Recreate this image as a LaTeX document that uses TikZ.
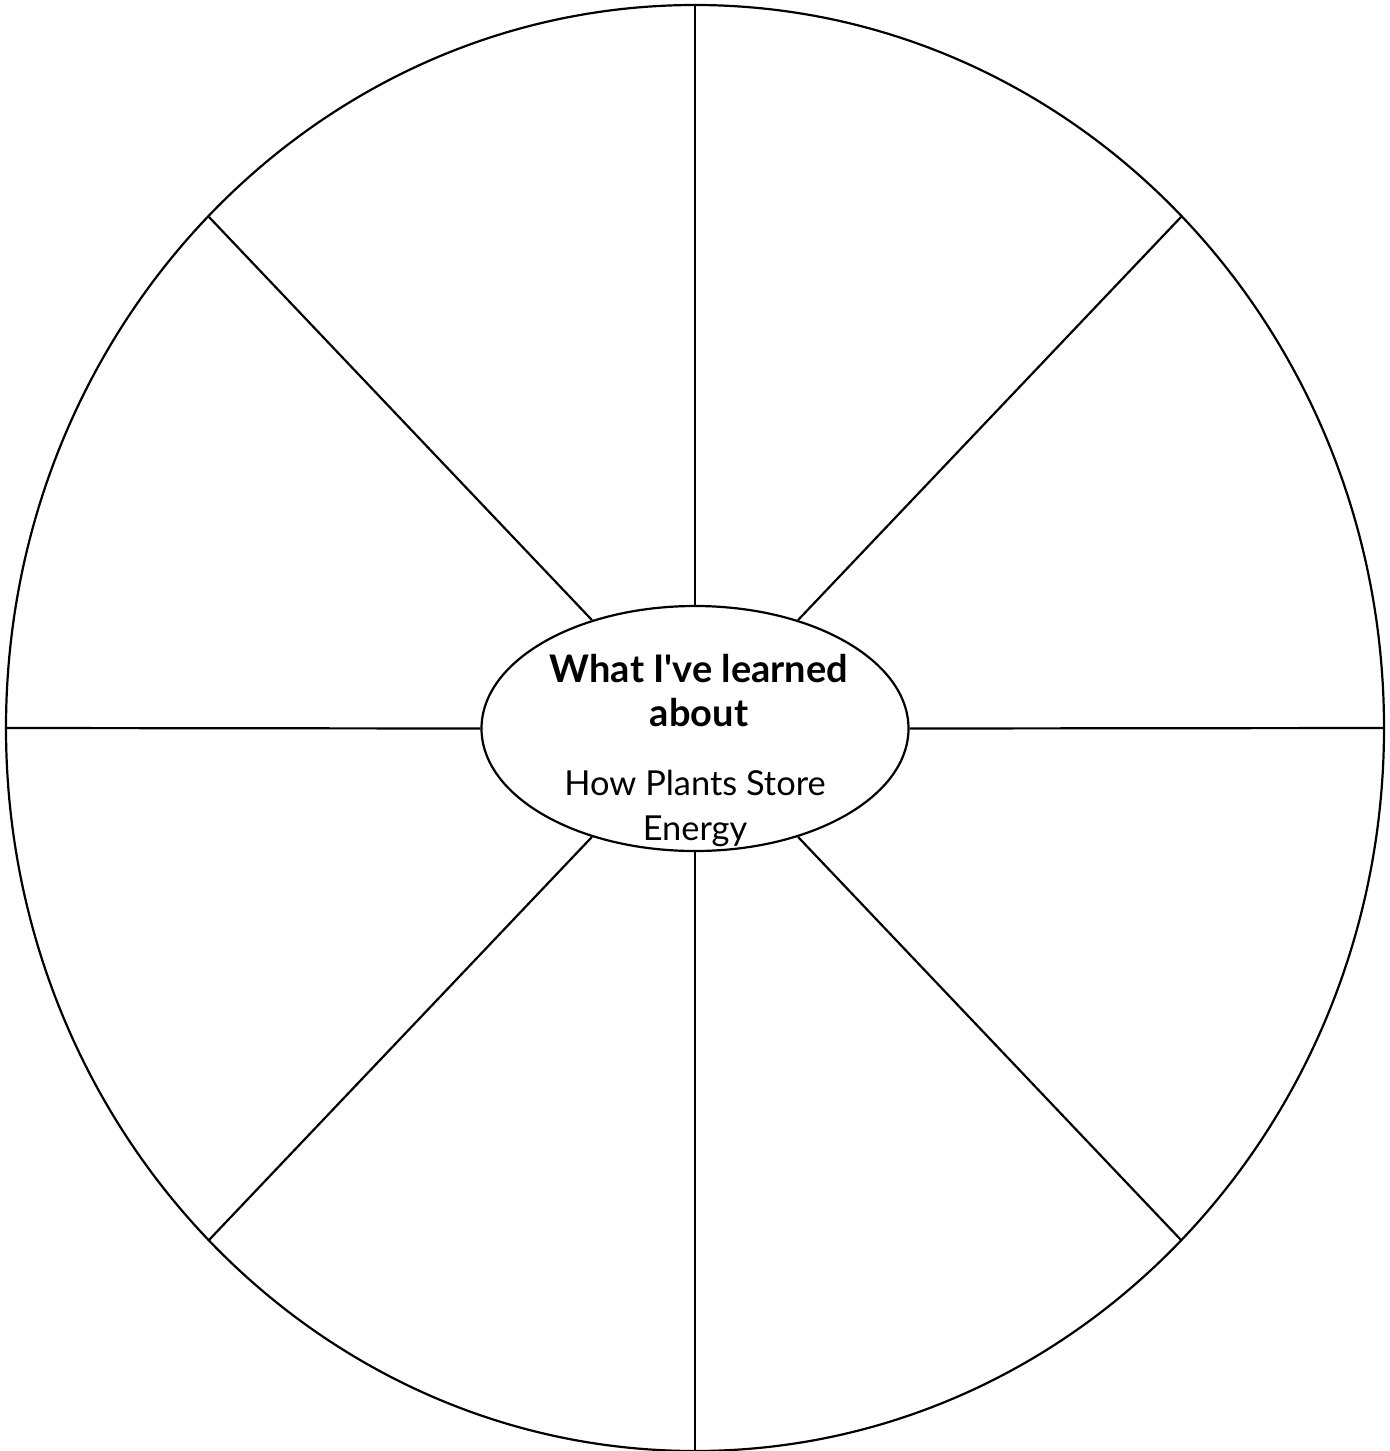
\documentclass[tikz,border=0pt]{standalone}
\usepackage{fontspec}
\setmainfont{Lato}
\usetikzlibrary{shapes.geometric}
\begin{document}
\begin{tikzpicture}[x=0.5pt,y=-0.5pt,
  ring/.style={ellipse,draw,line width=1.1pt,inner sep=0pt},
  spoke/.style={line width=1.1pt},
  title/.style={font=\fontsize{19}{22}\selectfont\bfseries,align=center,inner sep=0pt},
  topic/.style={font=\fontsize{17.2}{22.5}\selectfont,align=center,inner sep=0pt}]
\useasboundingbox (0,0) rectangle (1390,1451);
\node[ring,minimum width=689pt,minimum height=723pt] (outer) at (695,728) {};
\node[ring,minimum width=213.5pt,minimum height=122.5pt] (inner) at (695,728.5) {};
\coordinate (ne) at (1181,217);
\coordinate (nw) at (209,217);
\coordinate (sw) at (209,1240);
\coordinate (se) at (1181,1240);
\draw[spoke] (outer.90) -- (inner.90);
\draw[spoke] (outer.270) -- (inner.270);
\draw[spoke] (outer.180) -- (inner.180);
\draw[spoke] (outer.0) -- (inner.0);
\draw[spoke] (ne) -- (inner);
\draw[spoke] (nw) -- (inner);
\draw[spoke] (sw) -- (inner);
\draw[spoke] (se) -- (inner);
\node[title] (t1) at (699,691) {What I\textquotesingle ve learned\\about};
\node[topic] (t2) at (695,808) {How Plants Store\\Energy};
\end{tikzpicture}
\end{document}
